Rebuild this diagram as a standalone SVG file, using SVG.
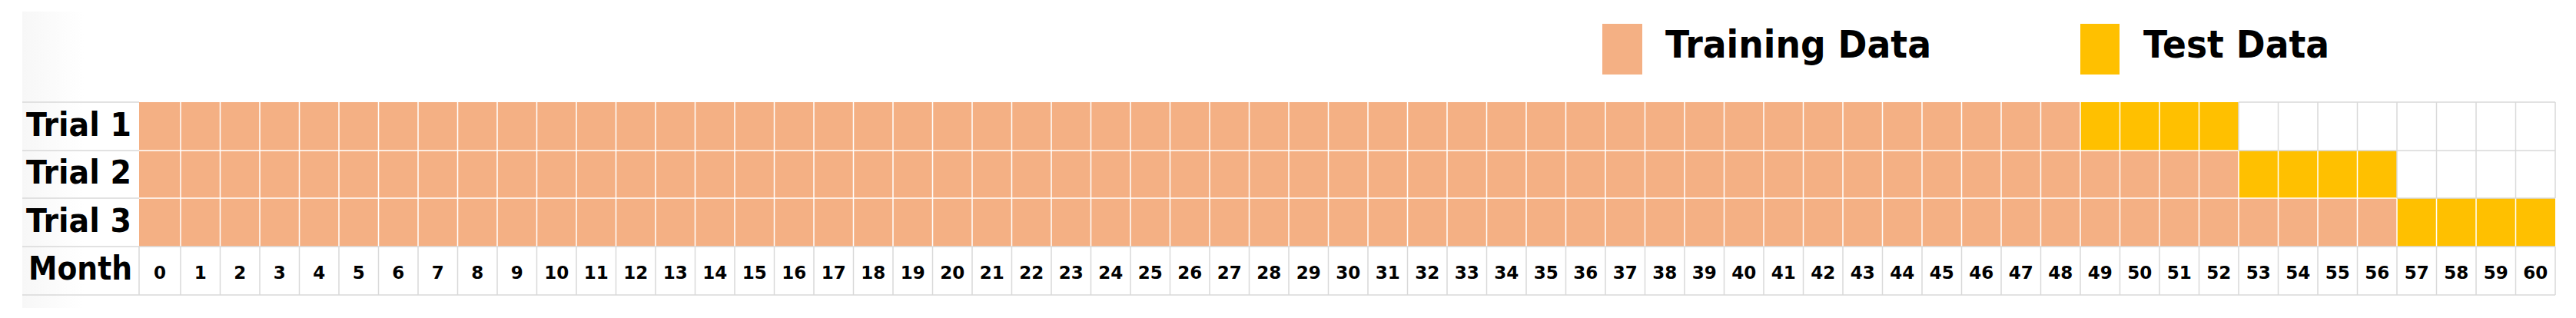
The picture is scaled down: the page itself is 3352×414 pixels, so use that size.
<svg xmlns="http://www.w3.org/2000/svg" width="3352" height="414" viewBox="0 0 3352 414">
<defs>
<linearGradient id="fade" x1="0" y1="0" x2="1" y2="0">
<stop offset="0" stop-color="#f7f7f7"/>
<stop offset="1" stop-color="#ffffff"/>
</linearGradient>
</defs>
<style>
.lbl{font-family:"DejaVu Sans",Verdana,sans-serif;font-weight:bold;font-size:42px;fill:#000}
.leg{font-family:"DejaVu Sans",Verdana,sans-serif;font-weight:bold;font-size:50px;fill:#000}
.num{font-family:"DejaVu Sans",Verdana,sans-serif;font-weight:bold;font-size:23px;fill:#000;text-anchor:middle}
.train{fill:#F4B084}
.test{fill:#FFC000}
.sep{fill:none;stroke:#ffffff;stroke-width:1.5}
.grid{fill:none;stroke:#d9d9d9;stroke-width:1.5}
</style>
<rect x="0" y="0" width="3352" height="414" fill="#ffffff"/>
<rect x="29" y="15" width="80" height="386" fill="url(#fade)"/>

<g id="legend">
<g id="legend-training">
<rect class="train" x="2085" y="31" width="52" height="66"/>
<text class="leg" x="2167" y="75" textLength="346" lengthAdjust="spacingAndGlyphs">Training Data</text>
</g>
<g id="legend-test">
<rect class="test" x="2707" y="31" width="51" height="66"/>
<text class="leg" x="2789" y="75" textLength="242" lengthAdjust="spacingAndGlyphs">Test Data</text>
</g>
</g>

<g id="trial-1">
<rect class="train" x="181" y="133" width="2526" height="63"/>
<rect class="test" x="2707" y="133" width="206" height="63"/>
<text class="lbl" x="34" y="177" textLength="137" lengthAdjust="spacingAndGlyphs">Trial 1</text>
</g>
<g id="trial-2">
<rect class="train" x="181" y="196" width="2732" height="62"/>
<rect class="test" x="2913" y="196" width="206" height="62"/>
<text class="lbl" x="34" y="239" textLength="137" lengthAdjust="spacingAndGlyphs">Trial 2</text>
</g>
<g id="trial-3">
<rect class="train" x="181" y="258" width="2938" height="63"/>
<rect class="test" x="3119" y="258" width="206" height="63"/>
<text class="lbl" x="34" y="302" textLength="137" lengthAdjust="spacingAndGlyphs">Trial 3</text>
</g>

<g id="cell-separators">
<path class="sep" d="M181 196H2913 M181 258H3119
M235 133V321 M286.5 133V321 M338 133V321 M389.5 133V321 M441 133V321 M492.5 133V321 M544 133V321 M595.5 133V321 M647 133V321 M698.5 133V321
M750 133V321 M801.5 133V321 M853 133V321 M904.5 133V321 M956 133V321 M1007.5 133V321 M1059 133V321 M1110.5 133V321 M1162 133V321 M1213.5 133V321
M1265 133V321 M1316.5 133V321 M1368 133V321 M1419.5 133V321 M1471 133V321 M1522.5 133V321 M1574 133V321 M1625.5 133V321 M1677 133V321 M1728.5 133V321
M1780 133V321 M1831.5 133V321 M1883 133V321 M1934.5 133V321 M1986 133V321 M2037.5 133V321 M2089 133V321 M2140.5 133V321 M2192 133V321 M2243.5 133V321
M2295 133V321 M2346.5 133V321 M2398 133V321 M2449.5 133V321 M2501 133V321 M2552.5 133V321 M2604 133V321 M2655.5 133V321 M2707 133V321 M2758.5 133V321
M2810 133V321 M2861.5 133V321
M2964.5 196V321 M3016 196V321 M3067.5 196V321 M2913 196V321
M3170.5 258V321 M3222 258V321 M3273.5 258V321 M3119 258V321"/>
</g>

<g id="grid-lines">
<path class="grid" d="M29 133H181 M2913 133H3325 M29 196H181 M2913 196H3325 M29 258H181 M3119 258H3325 M29 321H3325 M29 384H3325
M2913 133V196 M2964.5 133V196 M3016 133V196 M3067.5 133V196
M3119 133V258 M3170.5 133V258 M3222 133V258 M3273.5 133V258 M3325 133V258
M181 321V384 M235 321V384 M286.5 321V384 M338 321V384 M389.5 321V384 M441 321V384 M492.5 321V384 M544 321V384 M595.5 321V384 M647 321V384 M698.5 321V384
M750 321V384 M801.5 321V384 M853 321V384 M904.5 321V384 M956 321V384 M1007.5 321V384 M1059 321V384 M1110.5 321V384 M1162 321V384 M1213.5 321V384
M1265 321V384 M1316.5 321V384 M1368 321V384 M1419.5 321V384 M1471 321V384 M1522.5 321V384 M1574 321V384 M1625.5 321V384 M1677 321V384 M1728.5 321V384
M1780 321V384 M1831.5 321V384 M1883 321V384 M1934.5 321V384 M1986 321V384 M2037.5 321V384 M2089 321V384 M2140.5 321V384 M2192 321V384 M2243.5 321V384
M2295 321V384 M2346.5 321V384 M2398 321V384 M2449.5 321V384 M2501 321V384 M2552.5 321V384 M2604 321V384 M2655.5 321V384 M2707 321V384 M2758.5 321V384
M2810 321V384 M2861.5 321V384 M2913 321V384 M2964.5 321V384 M3016 321V384 M3067.5 321V384 M3119 321V384 M3170.5 321V384 M3222 321V384 M3273.5 321V384 M3325 321V384"/>
</g>

<g id="month-row">
<text class="lbl" x="37" y="364" textLength="135" lengthAdjust="spacingAndGlyphs">Month</text>
<text class="num" x="208" y="363">0</text>
<text class="num" x="260.75" y="363">1</text>
<text class="num" x="312.25" y="363">2</text>
<text class="num" x="363.75" y="363">3</text>
<text class="num" x="415.25" y="363">4</text>
<text class="num" x="466.75" y="363">5</text>
<text class="num" x="518.25" y="363">6</text>
<text class="num" x="569.75" y="363">7</text>
<text class="num" x="621.25" y="363">8</text>
<text class="num" x="672.75" y="363">9</text>
<text class="num" x="724.25" y="363">10</text>
<text class="num" x="775.75" y="363">11</text>
<text class="num" x="827.25" y="363">12</text>
<text class="num" x="878.75" y="363">13</text>
<text class="num" x="930.25" y="363">14</text>
<text class="num" x="981.75" y="363">15</text>
<text class="num" x="1033.25" y="363">16</text>
<text class="num" x="1084.75" y="363">17</text>
<text class="num" x="1136.25" y="363">18</text>
<text class="num" x="1187.75" y="363">19</text>
<text class="num" x="1239.25" y="363">20</text>
<text class="num" x="1290.75" y="363">21</text>
<text class="num" x="1342.25" y="363">22</text>
<text class="num" x="1393.75" y="363">23</text>
<text class="num" x="1445.25" y="363">24</text>
<text class="num" x="1496.75" y="363">25</text>
<text class="num" x="1548.25" y="363">26</text>
<text class="num" x="1599.75" y="363">27</text>
<text class="num" x="1651.25" y="363">28</text>
<text class="num" x="1702.75" y="363">29</text>
<text class="num" x="1754.25" y="363">30</text>
<text class="num" x="1805.75" y="363">31</text>
<text class="num" x="1857.25" y="363">32</text>
<text class="num" x="1908.75" y="363">33</text>
<text class="num" x="1960.25" y="363">34</text>
<text class="num" x="2011.75" y="363">35</text>
<text class="num" x="2063.25" y="363">36</text>
<text class="num" x="2114.75" y="363">37</text>
<text class="num" x="2166.25" y="363">38</text>
<text class="num" x="2217.75" y="363">39</text>
<text class="num" x="2269.25" y="363">40</text>
<text class="num" x="2320.75" y="363">41</text>
<text class="num" x="2372.25" y="363">42</text>
<text class="num" x="2423.75" y="363">43</text>
<text class="num" x="2475.25" y="363">44</text>
<text class="num" x="2526.75" y="363">45</text>
<text class="num" x="2578.25" y="363">46</text>
<text class="num" x="2629.75" y="363">47</text>
<text class="num" x="2681.25" y="363">48</text>
<text class="num" x="2732.75" y="363">49</text>
<text class="num" x="2784.25" y="363">50</text>
<text class="num" x="2835.75" y="363">51</text>
<text class="num" x="2887.25" y="363">52</text>
<text class="num" x="2938.75" y="363">53</text>
<text class="num" x="2990.25" y="363">54</text>
<text class="num" x="3041.75" y="363">55</text>
<text class="num" x="3093.25" y="363">56</text>
<text class="num" x="3144.75" y="363">57</text>
<text class="num" x="3196.25" y="363">58</text>
<text class="num" x="3247.75" y="363">59</text>
<text class="num" x="3299.25" y="363">60</text>
</g>
</svg>
